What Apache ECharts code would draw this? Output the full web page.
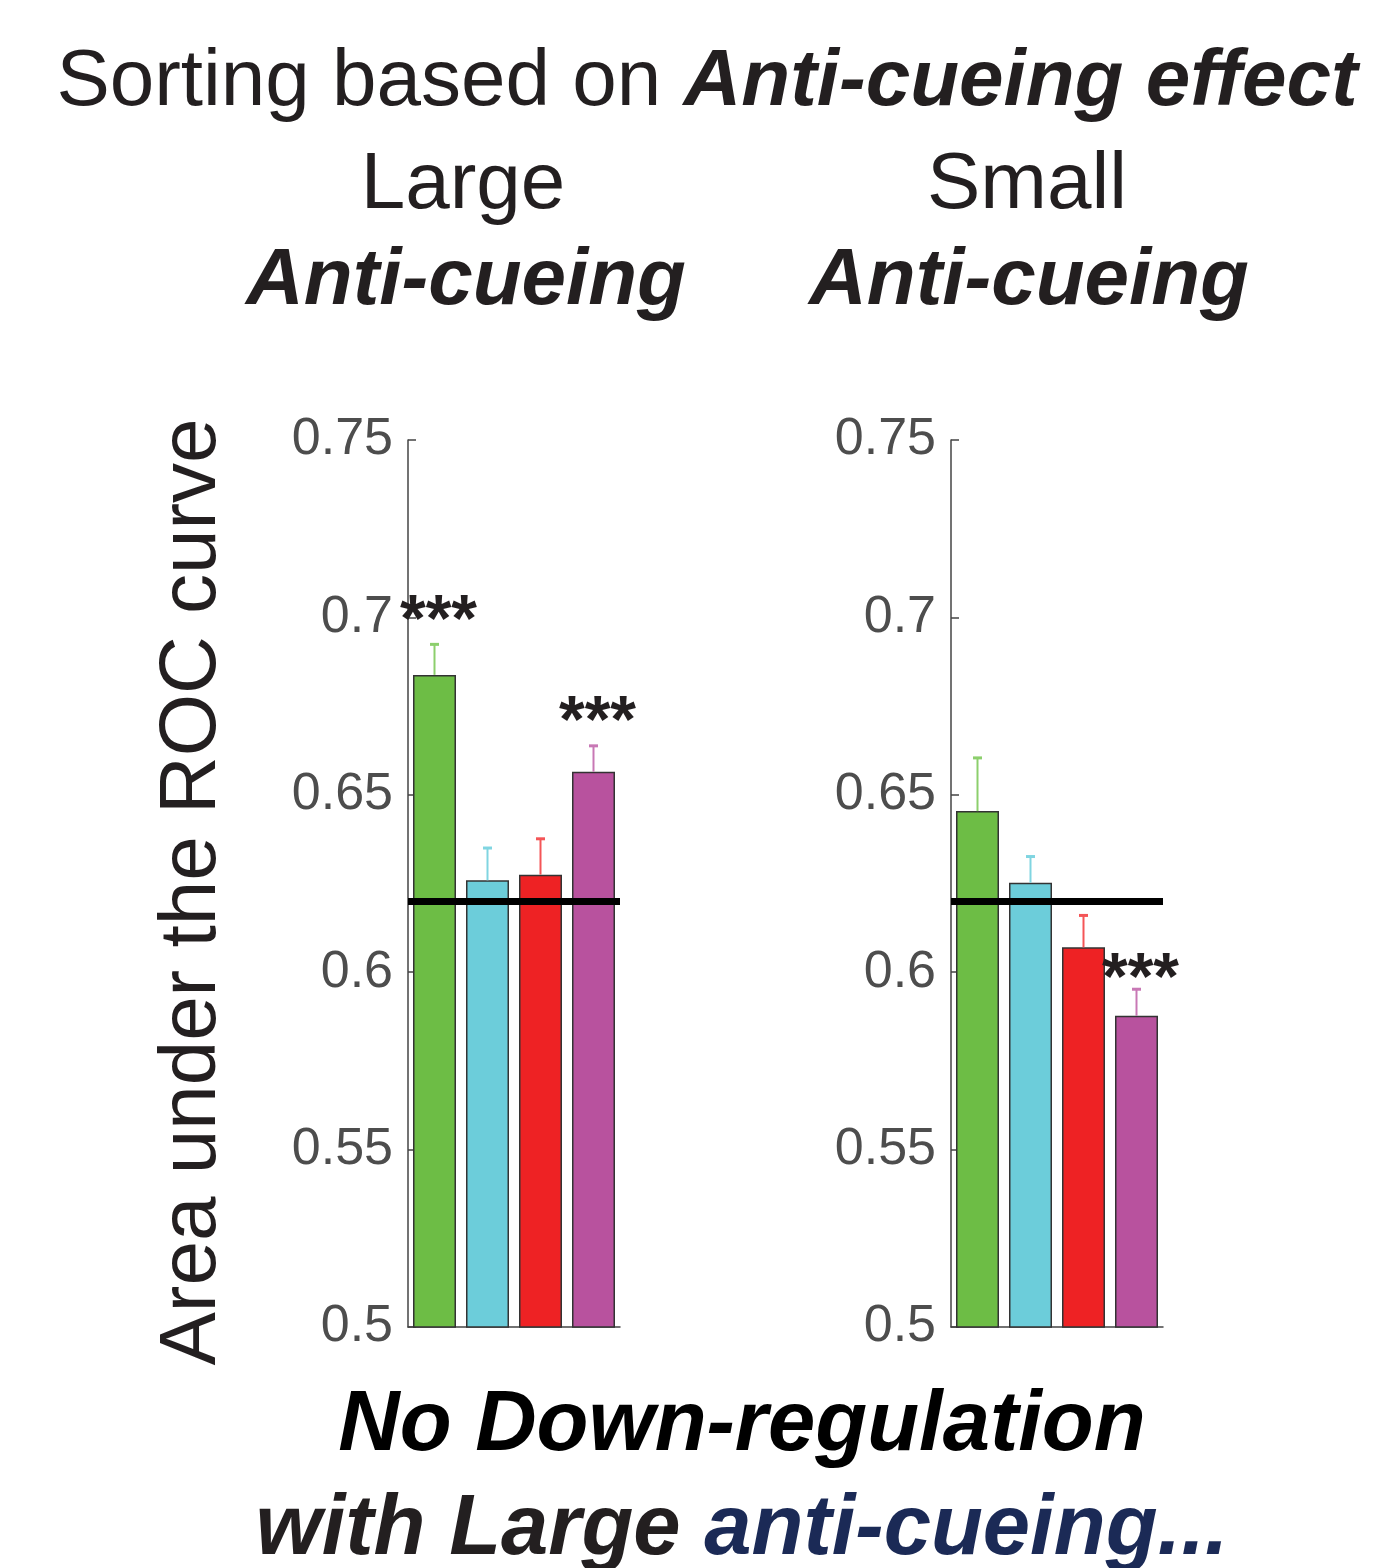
<!DOCTYPE html>
<html><head><meta charset="utf-8">
<script src="https://cdn.jsdelivr.net/npm/echarts@6/dist/echarts.min.js"></script>
<style>html,body{margin:0;padding:0;background:#fff}#c{width:1374px;height:1568px}</style>
</head><body><div id="c"></div>
<script>
// ---- data ----
const categories = ['Group 1', 'Group 2', 'Group 3', 'Group 4'];
const barColors = ['#6dbd45', '#6ccdda', '#ee2224', '#b8529e'];
const errColors = ['#8ccf6c', '#80d5e1', '#f45557', '#c878b5'];
const largeMean = [0.6838, 0.6259, 0.6275, 0.6565];
const largeErrTop = [0.6924, 0.6350, 0.6376, 0.6638];
const largeRef = 0.6213;
const largeSig = ['***', '', '', '***'];
const smallMean = [0.6454, 0.6252, 0.6070, 0.5877];
const smallErrTop = [0.6604, 0.6326, 0.6160, 0.5952];
const smallRef = 0.6211;
const smallSig = ['', '', '', '***'];
const yMin = 0.5, yMax = 0.75, yStep = 0.05;

const FF = "'Liberation Sans', Arial, Helvetica, sans-serif";
const TXT = '#231f20';

const chart = echarts.init(document.getElementById('c'), null, {renderer: 'canvas'});

function grid(left) { return {left: left, top: 440, width: 212, height: 887, containLabel: false}; }
function xAx(gi) {
  return {type: 'category', gridIndex: gi, data: categories, boundaryGap: true,
    axisLine: {show: true, lineStyle: {color: '#444', width: 1.5}},
    axisTick: {show: false}, axisLabel: {show: false}, splitLine: {show: false}};
}
function yAx(gi) {
  return {type: 'value', gridIndex: gi, min: yMin, max: yMax, interval: yStep,
    axisLine: {show: true, lineStyle: {color: '#444', width: 1.5}},
    axisTick: {show: true, inside: true, length: 8, lineStyle: {color: '#444', width: 1.5}},
    axisLabel: {fontSize: 52, color: '#4d4d4d', margin: 15, fontFamily: FF, padding: [6, 0, 0, 0],
      formatter: v => String(+v.toFixed(2))},
    splitLine: {show: false}};
}
function barSeries(gi, means, ref) {
  return {type: 'bar', xAxisIndex: gi, yAxisIndex: gi, barWidth: 43, z: 2,
    data: means.map((v, i) => ({value: v, itemStyle: {color: barColors[i]}})),
    itemStyle: {borderColor: '#333', borderWidth: 1.5},
    markLine: {silent: true, symbol: 'none', z: 5, label: {show: false},
      lineStyle: {color: '#000', width: 7, type: 'solid'},
      data: [{yAxis: ref}]},
    animation: false};
}
function errSeries(gi, means, tops, sigs, starOff) {
  return {type: 'custom', xAxisIndex: gi, yAxisIndex: gi, z: 4,
    data: means.map((m, i) => [i, m, tops[i]]),
    encode: {x: 0, y: 2},
    renderItem: function (params, api) {
      const i = api.value(0);
      const top = api.coord([i, api.value(2)]);
      const base = api.coord([i, api.value(1)]);
      const c = errColors[i];
      const children = [
        {type: 'line', shape: {x1: base[0], y1: base[1], x2: top[0], y2: top[1]}, style: {stroke: c, lineWidth: 2}},
        {type: 'line', shape: {x1: top[0] - 4.5, y1: top[1], x2: top[0] + 4.5, y2: top[1]}, style: {stroke: c, lineWidth: 3}}
      ];
      if (sigs[i]) {
        children.push({type: 'text', x: top[0] + 4, y: top[1] - starOff,
          style: {text: sigs[i], fontSize: 66, fontWeight: 'bold', fontFamily: FF, fill: TXT,
            align: 'center', verticalAlign: 'middle'}});
      }
      return {type: 'group', children: children};
    },
    animation: false};
}

const big = {fontFamily: FF, fontSize: 80, fill: TXT};
const option = {
  backgroundColor: '#fff',
  animation: false,
  grid: [grid(408), grid(951)],
  xAxis: [xAx(0), xAx(1)],
  yAxis: [yAx(0), yAx(1)],
  series: [
    barSeries(0, largeMean, largeRef),
    errSeries(0, largeMean, largeErrTop, largeSig, 22),
    barSeries(1, smallMean, smallRef),
    errSeries(1, smallMean, smallErrTop, smallSig, 8)
  ],
  graphic: [
    {type: 'text', x: 707, y: 83, style: Object.assign({}, big, {
      text: 'Sorting based on {b|Anti-cueing effect}', align: 'center', verticalAlign: 'middle',
      rich: {b: {fontFamily: FF, fontSize: 80, fontWeight: 'bold', fontStyle: 'italic', fill: TXT}}})},
    {type: 'text', x: 463, y: 186, style: Object.assign({}, big, {text: 'Large', align: 'center', verticalAlign: 'middle'})},
    {type: 'text', x: 466, y: 282, style: Object.assign({}, big, {text: 'Anti-cueing', fontWeight: 'bold', fontStyle: 'italic', align: 'center', verticalAlign: 'middle'})},
    {type: 'text', x: 1027, y: 186, style: Object.assign({}, big, {text: 'Small', align: 'center', verticalAlign: 'middle'})},
    {type: 'text', x: 1029, y: 282, style: Object.assign({}, big, {text: 'Anti-cueing', fontWeight: 'bold', fontStyle: 'italic', align: 'center', verticalAlign: 'middle'})},
    {type: 'text', x: 193, y: 892, rotation: Math.PI / 2, style: Object.assign({}, big, {text: 'Area under the ROC curve', align: 'center', verticalAlign: 'middle'})},
    {type: 'text', x: 742, y: 1427, style: {text: 'No Down-regulation', fontFamily: FF, fontSize: 85, fontWeight: 'bold', fontStyle: 'italic', fill: '#000', align: 'center', verticalAlign: 'middle'}},
    {type: 'text', x: 742, y: 1531, style: {text: 'with Large {n|anti-cueing...}', fontFamily: FF, fontSize: 85, fontWeight: 'bold', fontStyle: 'italic', fill: TXT, align: 'center', verticalAlign: 'middle',
      rich: {n: {fontFamily: FF, fontSize: 85, fontWeight: 'bold', fontStyle: 'italic', fill: '#1b2a56'}}}}
  ]
};
chart.setOption(option);
</script></body></html>
